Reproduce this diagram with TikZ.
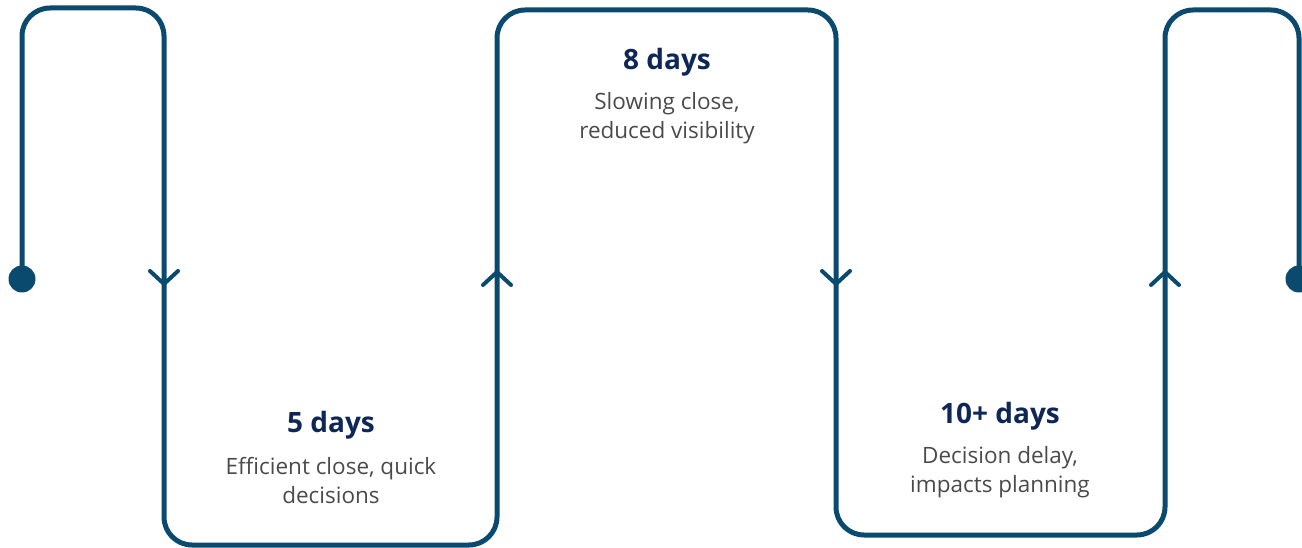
\documentclass[tikz,border=0pt]{standalone}
\usepackage{fontspec}
\setmainfont{Open Sans}
\definecolor{linec}{HTML}{0B4A6F}
\definecolor{titlec}{HTML}{0F2757}
\definecolor{descc}{HTML}{4A4A4A}
\begin{document}
\begin{tikzpicture}[x=1pt,y=-1pt,
  flow/.style={draw=linec,line width=5pt,rounded corners=28pt,line join=round},
  chev/.style={draw=linec,line width=4pt,line cap=round,line join=round},
  dotn/.style={circle,fill=linec,minimum size=27pt,inner sep=0pt},
  ttl/.style={font=\fontsize{28}{32}\selectfont\bfseries,text=titlec,inner sep=0pt},
  dsc/.style={font=\fontsize{22.5}{29}\selectfont,text=descc,align=center,inner sep=0pt}]
\useasboundingbox (0,0) rectangle (1302,548);
\coordinate (s) at (22,279);
\coordinate (c1) at (22,8);
\coordinate (c2) at (164,8);
\coordinate (c3) at (164,545);
\coordinate (c4) at (497,545);
\coordinate (c5) at (497,10);
\coordinate (c6) at (836,10);
\coordinate (c7) at (836,535);
\coordinate (c8) at (1165,535);
\coordinate (c9) at (1165,10);
\coordinate (c10) at (1299,10);
\coordinate (e) at (1299,279);
\draw[flow] (s) -- (c1) -- (c2) -- (c3) -- (c4) -- (c5) -- (c6) -- (c7) -- (c8) -- (c9) -- (c10) -- (e);
\node[dotn] (dotS) at (s) {};
\node[dotn] (dotE) at (e) {};
% chevrons
\coordinate (a1) at (164,284);
\coordinate (a2) at (497,272);
\coordinate (a3) at (836,284);
\coordinate (a4) at (1165,272);
\draw[chev] ([shift={(-14,-13)}]a1) -- (a1) -- ([shift={(14,-13)}]a1);
\draw[chev] ([shift={(-14,13)}]a2) -- (a2) -- ([shift={(14,13)}]a2);
\draw[chev] ([shift={(-14,-13)}]a3) -- (a3) -- ([shift={(14,-13)}]a3);
\draw[chev] ([shift={(-14,13)}]a4) -- (a4) -- ([shift={(14,13)}]a4);
% texts
\node[ttl] (t1) at (331,425) {5 days};
\node[dsc] (d1) at (331,481) {Efficient close, quick\\decisions};
\node[ttl] (t2) at (667,62) {8 days};
\node[dsc] (d2) at (667,118) {Slowing close,\\reduced visibility};
\node[ttl] (t3) at (1000,416) {10+ days};
\node[dsc] (d3) at (1000,472) {Decision delay,\\impacts planning};
\end{tikzpicture}
\end{document}
